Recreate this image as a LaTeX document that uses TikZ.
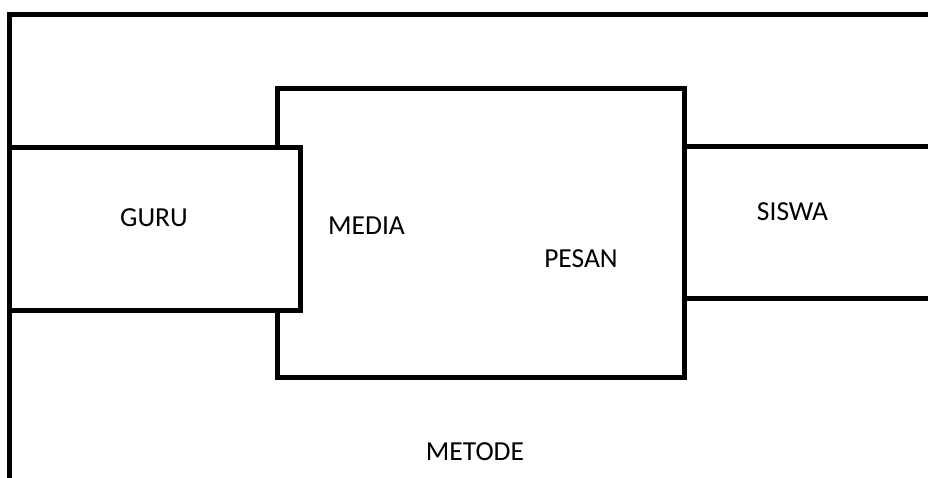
\documentclass[tikz,border=0pt]{standalone}
\usepackage{fontspec}
\setmainfont{Carlito}
\begin{document}
\begin{tikzpicture}[x=1pt,y=-1pt,line width=5pt,line join=miter,
  box/.style={draw,fill=white,rectangle,inner sep=0pt,outer sep=0pt,anchor=north west},
  lbl/.style={font=\fontsize{27.5}{28}\selectfont,anchor=base,inner sep=0pt}]
\useasboundingbox (0,0) rectangle (928,477);
\clip (0,0) rectangle (928,477);
% outer frame (top and left edges)
\coordinate (fb) at (9.5,485);
\coordinate (ftl) at (9.5,14.5);
\coordinate (ftr) at (940,14.5);
\draw (fb) -- (ftl) -- (ftr);
% boxes
\node[box,minimum width=255.5pt,minimum height=152pt] (siswa) at (684.5,146.5) {};
\node[box,minimum width=407pt,minimum height=289pt] (media) at (277.5,88.5) {};
\node[box,minimum width=291pt,minimum height=163pt] (guru) at (9.5,147.5) {};
% labels
\node[lbl] (tguru) at (154,226) {GURU};
\node[lbl] (tmedia) at (366.5,234) {MEDIA};
\node[lbl] (tpesan) at (581,267) {PESAN};
\node[lbl] (tsiswa) at (792.5,220) {SISWA};
\node[lbl] (tmetode) at (475,460) {METODE};
\end{tikzpicture}
\end{document}
